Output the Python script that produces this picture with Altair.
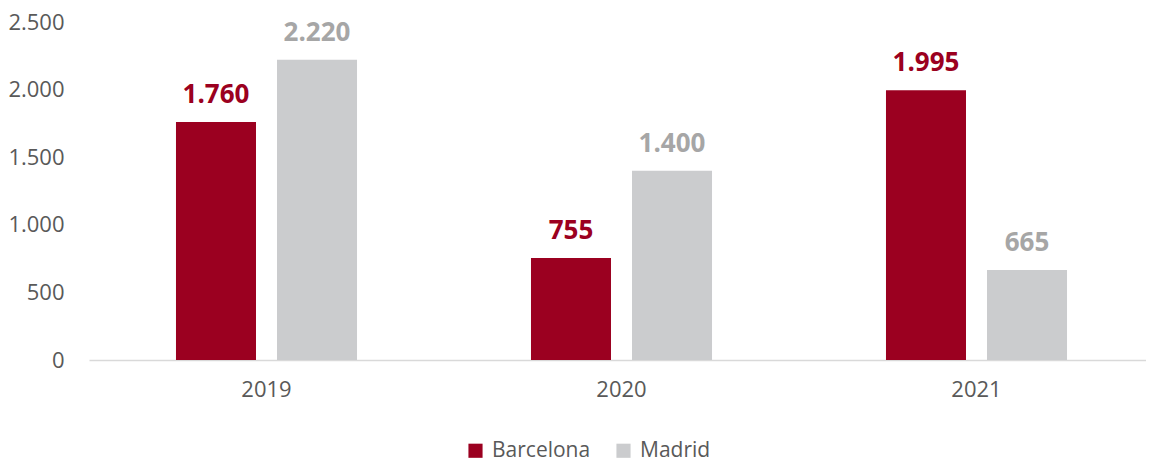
import altair as alt
import pandas as pd

years = ["2019", "2020", "2021"]
cities = ["Barcelona", "Madrid"]
barcelona = [1760, 755, 1995]
madrid = [2220, 1400, 665]

rows = []
for i, y in enumerate(years):
    rows.append({"year": y, "city": "Barcelona", "value": barcelona[i]})
    rows.append({"year": y, "city": "Madrid", "value": madrid[i]})
df = pd.DataFrame(rows)

FONT = "Open Sans"
RED = "#9B0020"
GREY = "#CBCCCE"

base = alt.Chart(df).transform_calculate(
    label="replace(format(datum.value, ','), ',', '.')"
)

xenc = alt.X("year:N", title=None,
             scale=alt.Scale(paddingInner=0, paddingOuter=0, range=[0, 1065]),
             axis=alt.Axis(labelAngle=0, ticks=False, domainColor="#D9D9D9", domainWidth=1.5,
                           labelFontSize=22, labelColor="#595959", labelFont=FONT,
                           labelPadding=19))
xoff = alt.XOffset("city:N", scale=alt.Scale(domain=cities, paddingInner=0.208, paddingOuter=0.861))
yenc = alt.Y("value:Q", title=None,
             scale=alt.Scale(domain=[0, 2500], nice=False),
             axis=alt.Axis(values=[0, 500, 1000, 1500, 2000, 2500], grid=False, domain=False,
                           ticks=False, labelFontSize=22, labelColor="#595959", labelFont=FONT,
                           labelPadding=25,
                           labelExpr="replace(format(datum.value, ','), ',', '.')"))

bars = base.mark_bar().encode(
    x=xenc, xOffset=xoff, y=yenc,
    color=alt.Color("city:N", scale=alt.Scale(domain=cities, range=[RED, GREY]),
                    legend=alt.Legend(title=None, orient="none", direction="horizontal",
                                      legendX=376, legendY=418,
                                      symbolType="square", symbolSize=200,
                                      symbolStrokeWidth=0, labelFontSize=21,
                                      labelColor="#595959", labelFont=FONT,
                                      columnPadding=22, labelOffset=6)),
)

texts = base.mark_text(fontSize=26, fontWeight="bold", font=FONT, baseline="alphabetic", dy=-19).encode(
    x=xenc, xOffset=xoff, y=yenc,
    text="label:N",
    color=alt.Color("city:N", scale=alt.Scale(domain=cities, range=[RED, "#A6A6A6"]), legend=None),
)

chart = alt.layer(bars, texts).resolve_scale(color="independent").properties(
    width=1057, height=338,
    autosize=alt.AutoSizeParams(type="none"),
    padding={"left": 81, "top": 14, "right": 0, "bottom": 99},
).configure_view(stroke=None)

chart.save("out.html", embed_options={"renderer": "svg", "actions": False})
